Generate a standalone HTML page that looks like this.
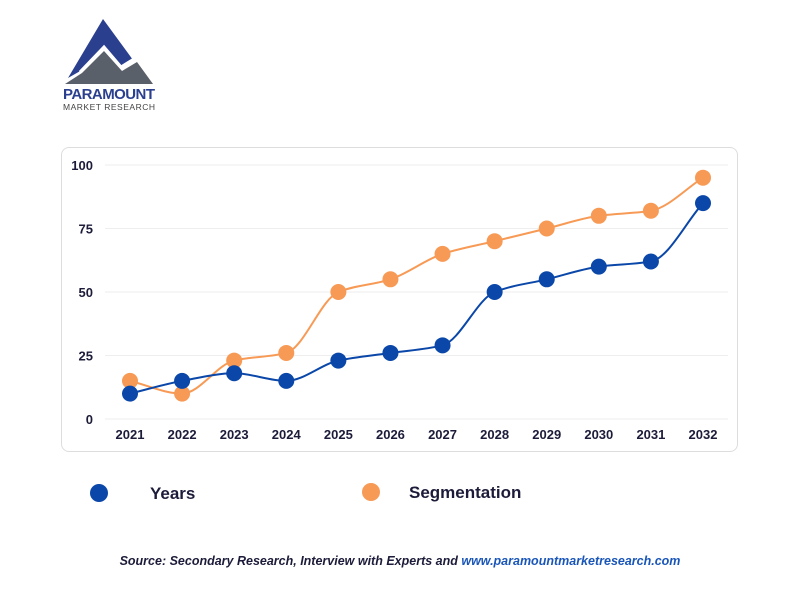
<!DOCTYPE html>
<html><head><meta charset="utf-8"><style>
body{margin:0;width:800px;height:600px;background:#fff;font-family:"Liberation Sans",sans-serif;overflow:hidden;position:relative}
.card{position:absolute;left:61px;top:147px;width:677px;height:305px;border:1.5px solid #ddd;border-radius:8px;box-sizing:border-box}
svg{position:absolute;left:0;top:0}
</style></head><body>
<div class="card"></div>
<svg width="800" height="600" id="chart">
 <g>
  <polygon points="68,78 103,19 133,60 121,66 104,46 82,70" fill="#2b3f8f"/>
  <polygon points="65,84 82,73 104,51 122,71 137,62 153,84" fill="#5a6069"/>
  <polyline points="80,72 104,47 121,67 134,59" fill="none" stroke="#fff" stroke-width="3"/>
  <text x="63" y="99" font-size="15" font-weight="bold" fill="#2b3f8f" textLength="92">PARAMOUNT</text>
  <text x="63" y="110" font-size="8.5" fill="#444" textLength="92">MARKET RESEARCH</text>
 </g>
 <g id="grid"></g><g id="lines"></g><g id="pts"></g>
 <g>
  <circle cx="99" cy="493" r="9" fill="#0a47a8"/>
  <text x="150" y="499" font-size="17" font-weight="bold" fill="#1c1c3a">Years</text>
  <circle cx="371" cy="492" r="9" fill="#f79a55"/>
  <text x="409" y="498" font-size="17" font-weight="bold" fill="#1c1c3a">Segmentation</text>
 </g>
 <text x="400" y="565" text-anchor="middle" font-size="12.5" font-weight="bold" font-style="italic" fill="#1c1c3a">Source: Secondary Research, Interview with Experts and <tspan fill="#1a56b8">www.paramountmarketresearch.com</tspan></text>
</svg>
<script>
const categories=["2021","2022","2023","2024","2025","2026","2027","2028","2029","2030","2031","2032"];
const yearsValues=[10,15,18,15,23,26,29,50,55,60,62,85];
const segValues=[15,10,23,26,50,55,65,70,75,80,82,95];
const yTicks=[0,25,50,75,100];
const NS="http://www.w3.org/2000/svg";
const x=i=>130+i*(703-130)/(categories.length-1);
const y=v=>419-v*2.54;
function mk(t,a,p){const e=document.createElementNS(NS,t);for(const k in a)e.setAttribute(k,a[k]);p.appendChild(e);return e;}
const grid=document.getElementById('grid');
yTicks.forEach(t=>{
 const l=mk('line',{x1:105,x2:728,y1:y(t),y2:y(t),stroke:'#eee','stroke-width':1},grid);
 
 
 const tx=mk('text',{x:93,y:y(t)+5,'text-anchor':'end','font-size':13,'font-weight':'bold',fill:'#1c1c3a'},grid);
 tx.textContent=t;
 
 
});
categories.forEach((c,i)=>{
 const tx=mk('text',{x:x(i),y:439,'text-anchor':'middle','font-size':13,'font-weight':'bold',fill:'#1c1c3a'},grid);
 tx.textContent=c;
 
 
});
function monotone(vals){
 const P=vals.map((v,i)=>[x(i),y(v)]),n=P.length,d=[],m=[];
 for(let i=0;i<n-1;i++)d.push((P[i+1][1]-P[i][1])/(P[i+1][0]-P[i][0]));
 for(let i=0;i<n;i++){
  if(i==0)m.push(d[0]);else if(i==n-1)m.push(d[n-2]);
  else m.push(d[i-1]*d[i]<=0?0:2/(1/d[i-1]+1/d[i]));
 }
 let s='M'+P[0][0]+','+P[0][1];
 for(let i=0;i<n-1;i++){const h=(P[i+1][0]-P[i][0])/3;
  s+=` C${P[i][0]+h},${P[i][1]+m[i]*h} ${P[i+1][0]-h},${P[i+1][1]-m[i+1]*h} ${P[i+1][0]},${P[i+1][1]}`;}
 return s;
}
const lines=document.getElementById('lines'),pts=document.getElementById('pts');
[[segValues,'#f79a55','segmentation'],[yearsValues,'#0a47a8','years']].forEach(([vals,col,nm])=>{
 const p=mk('path',{d:monotone(vals),fill:'none',stroke:col,'stroke-width':2},lines);
 
 
 vals.forEach((v,i)=>{
  const c=mk('circle',{cx:x(i),cy:y(v),r:8,fill:col},pts);
  
  
 });
});
</script>
</body></html>
